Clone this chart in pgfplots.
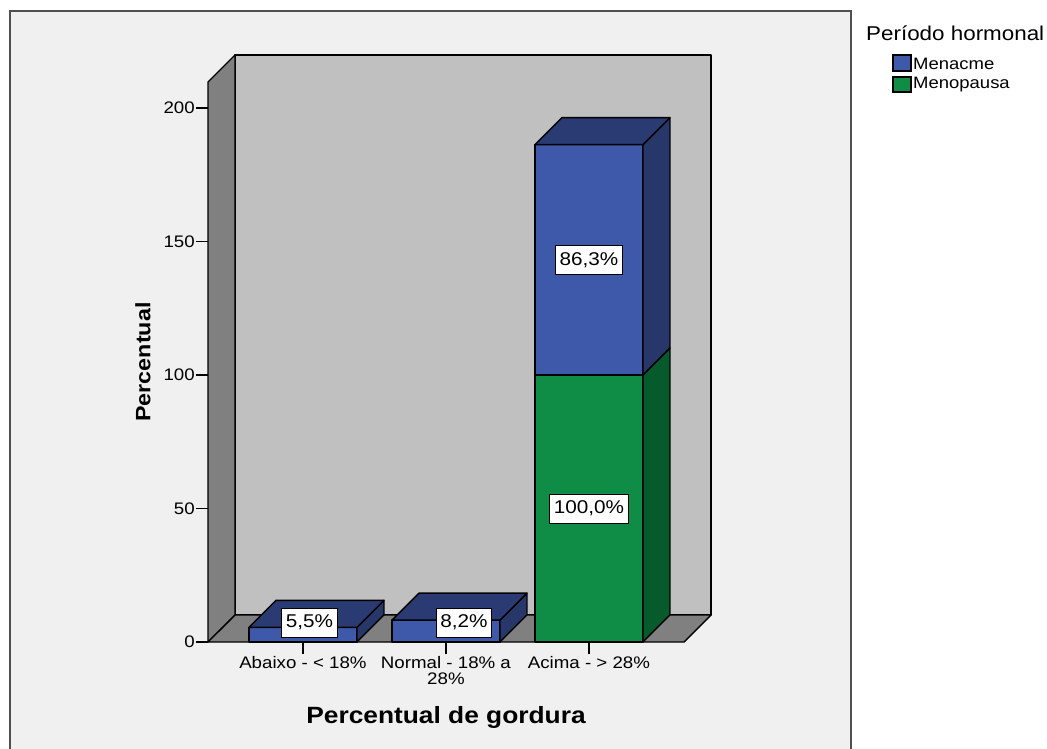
\documentclass[border=0pt]{standalone}
\usepackage{pgfplots}
\pgfplotsset{compat=1.18}
\usepackage{fontspec}
\setmainfont[FakeStretch=1.12]{Liberation Sans}

\definecolor{panel}{HTML}{F0F0F0}
\definecolor{backwall}{HTML}{C0C0C0}
\definecolor{sidewall}{HTML}{808080}
\definecolor{frameline}{HTML}{505050}
\definecolor{blueF}{HTML}{3E58AA}
\definecolor{blueT}{HTML}{293B72}
\definecolor{blueS}{HTML}{27376A}
\definecolor{greenF}{HTML}{0F8C45}
\definecolor{greenS}{HTML}{075A2C}

\newcommand\tickfont{\fontsize{16.7}{16}\selectfont}

\begin{document}
\begin{tikzpicture}[x=1pt,y=1pt,
  face/.style={draw=black, line width=1.4pt, line join=round},
  lbl/.style={fill=white, draw=black, line width=1pt, font=\fontsize{18.5}{20}\selectfont,
              inner xsep=4pt, inner ysep=2pt, minimum height=29pt}]
\useasboundingbox (0,0) rectangle (1047,-749);
\fill[white] (0,0) rectangle (1047,-749);
\fill[panel] (10,-11) rectangle (851,-749);
\draw[frameline, line width=1.6] (10,-749) -- (10,-11) -- (851,-11) -- (851,-749);

\begin{axis}[
  at={(208pt,-642pt)}, anchor=south west,
  scale only axis, width=503pt, height=587pt,
  xmin=-0.664, xmax=2.8535, ymin=0, ymax=219.85,
  clip=false,
  axis line style={draw=none},
  tick pos=left, tick align=outside,
  major tick length=12pt,
  tick style={black, line width=1.2pt},
  xtick={0,1,2},
  xticklabels={Abaixo - < 18\%, {Normal - 18\% a\\28\%}, Acima - > 28\%},
  xticklabel style={font=\tickfont, align=center, yshift=1pt},
  ytick={0,50,100,150,200},
  yticklabel style={font=\tickfont, inner xsep=1pt},
  /pgf/number format/assume math mode=true,
]
% walls and floor of the box
\addplot[face, fill=backwall] coordinates {(-0.4752,10.11) (2.8535,10.11) (2.8535,219.85) (-0.4752,219.85)} -- cycle;
\addplot[face, fill=sidewall] coordinates {(-0.664,0) (-0.4752,10.11) (-0.4752,219.85) (-0.664,209.74)} -- cycle;
\addplot[face, fill=sidewall] coordinates {(-0.664,0) (2.6647,0) (2.8535,10.11) (-0.4752,10.11)} -- cycle;

% Abaixo - < 18%: Menacme 5.5
\addplot[face, fill=blueF] coordinates {(-0.3776,0) (0.3776,0) (0.3776,5.5) (-0.3776,5.5)} -- cycle;
\addplot[face, fill=blueS] coordinates {(0.3776,0) (0.5664,10.11) (0.5664,15.61) (0.3776,5.5)} -- cycle;
\addplot[face, fill=blueT] coordinates {(-0.3776,5.5) (0.3776,5.5) (0.5664,15.61) (-0.1888,15.61)} -- cycle;

% Normal - 18% a 28%: Menacme 8.2
\addplot[face, fill=blueF] coordinates {(0.6224,0) (1.3776,0) (1.3776,8.2) (0.6224,8.2)} -- cycle;
\addplot[face, fill=blueS] coordinates {(1.3776,0) (1.5664,10.11) (1.5664,18.31) (1.3776,8.2)} -- cycle;
\addplot[face, fill=blueT] coordinates {(0.6224,8.2) (1.3776,8.2) (1.5664,18.31) (0.8112,18.31)} -- cycle;

% Acima - > 28%: Menopausa 100.0, Menacme 86.3 stacked on top
\addplot[face, fill=greenF] coordinates {(1.6224,0) (2.3776,0) (2.3776,100) (1.6224,100)} -- cycle;
\addplot[face, fill=greenS] coordinates {(2.3776,0) (2.5664,10.11) (2.5664,110.11) (2.3776,100)} -- cycle;
\addplot[face, fill=blueF] coordinates {(1.6224,100) (2.3776,100) (2.3776,186.3) (1.6224,186.3)} -- cycle;
\addplot[face, fill=blueS] coordinates {(2.3776,100) (2.5664,110.11) (2.5664,196.41) (2.3776,186.3)} -- cycle;
\addplot[face, fill=blueT] coordinates {(1.6224,186.3) (2.3776,186.3) (2.5664,196.41) (1.8112,196.41)} -- cycle;

% value labels
\node[lbl] at (axis cs:0.045,7.3) {5,5\%};
\node[lbl] at (axis cs:1.126,7.3) {8,2\%};
\node[lbl] at (axis cs:2,143.15) {86,3\%};
\node[lbl] at (axis cs:2,50) {100,0\%};
\end{axis}

% axis titles
\node[rotate=90, font=\bfseries\fontsize{20.8}{24}\selectfont] at (143,-362) {Percentual};
\node[font=\bfseries\fontsize{23.5}{26}\selectfont] at (446,-717) {Percentual de gordura};

% legend
\node[anchor=west, inner sep=0pt, font=\fontsize{20}{22}\selectfont] at (866,-33) {Período hormonal};
\filldraw[fill=blueF, draw=black, line width=1.2pt] (893,-55) rectangle (911,-71);
\filldraw[fill=greenF, draw=black, line width=1.2pt] (893,-77) rectangle (911,-92);
\node[anchor=west, inner sep=0pt, font=\fontsize{16.5}{18}\selectfont] at (913,-64) {Menacme};
\node[anchor=west, inner sep=0pt, font=\fontsize{16.5}{18}\selectfont] at (913,-85) {Menopausa};
\end{tikzpicture}
\end{document}
